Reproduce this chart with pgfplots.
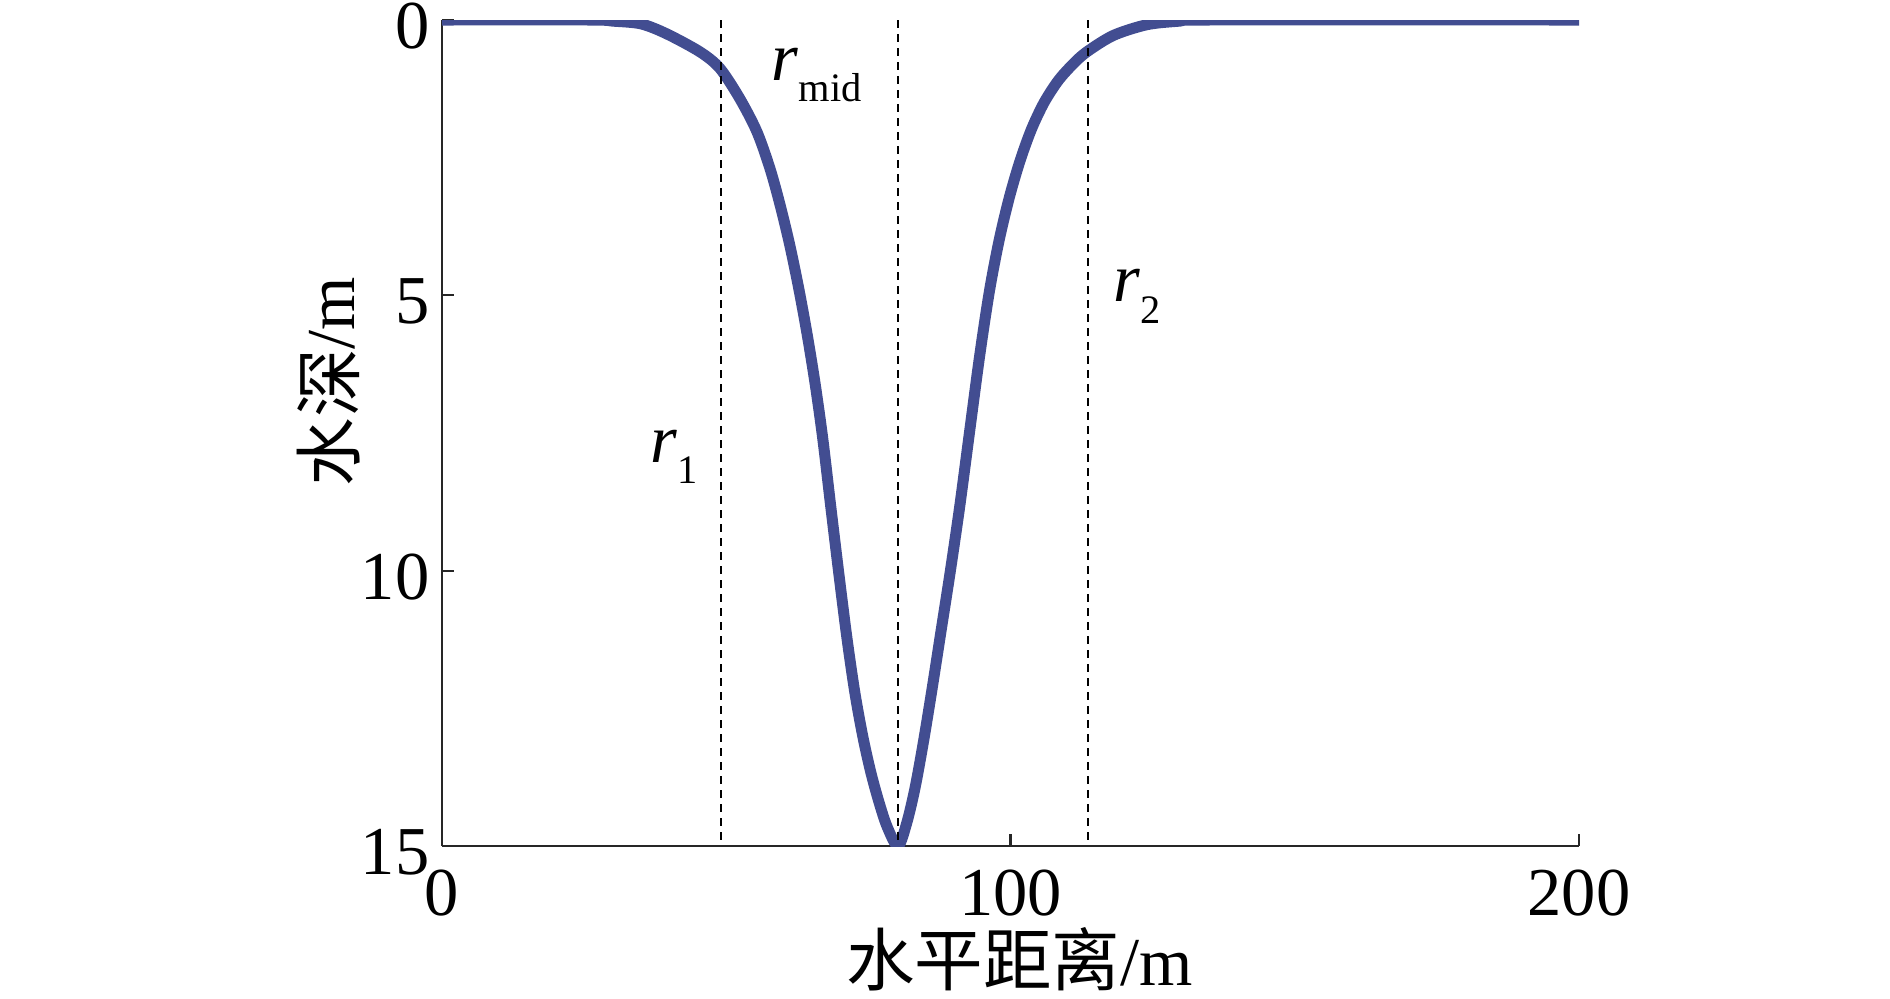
\documentclass[border=0pt]{standalone}
\usepackage{fontspec}
\setmainfont{Liberation Serif}
\newfontfamily\cjk{Noto Sans CJK SC}
\usepackage{pgfplots}
\pgfplotsset{compat=1.18}
\definecolor{curveblue}{RGB}{66,77,145}

% r with a lowered subscript, as in the figure
\newcommand\rlab[1]{\textit{r}\raisebox{-6.2pt}{\fontsize{11.5}{12}\selectfont #1}}

\pgfplotstableread{
x     y
0     0
26    0
30    0.02
35    0.07
39.5  0.25
45.4  0.58
48.9  0.88
52.4  1.43
55.4  2.03
57.7  2.70
59.5  3.37
61.2  4.10
62.8  4.90
64.3  5.75
65.7  6.65
67.0  7.62
68.4  8.85
69.8  10.05
71.2  11.20
72.6  12.20
74.0  13.00
75.4  13.65
76.8  14.18
78.3  14.65
80.2  15.00
81.7  14.60
83.2  13.95
84.7  13.10
86.2  12.15
87.7  11.15
89.4  10.02
91.1  8.81
92.9  7.40
94.6  6.08
96.3  4.92
98.0  4.00
99.8  3.22
101.7 2.55
103.7 1.98
105.9 1.50
108.4 1.10
111.0 0.80
113.4 0.58
118.1 0.28
124.0 0.085
129.8 0.02
134   0
200   0
}\profile

\begin{document}
\fontsize{19.5}{23}\selectfont
\begin{tikzpicture}
\begin{axis}[
    scale only axis,
    width=11.37cm, height=8.26cm,
    xmin=0, xmax=200, ymin=0, ymax=15,
    y dir=reverse,
    axis x line*=bottom, axis y line*=left,
    axis line style={line width=0.6pt, black!85},
    xtick={0,100,200}, ytick={0,5,10,15},
    tick align=inside, major tick length=1.2mm,
    tick style={line width=0.6pt, black!85},
    /pgf/number format/assume math mode=true,
    yticklabel style={inner xsep=3.4pt, yshift=-0.6mm},
    xlabel={{\cjk 水平距离}/m},
    ylabel={{\cjk 水深}/m},
    xlabel style={at={(axis description cs:0.508,-0.137)}, anchor=center},
    ylabel style={at={(axis description cs:-0.100,0.562)}, anchor=center},
]
\addplot[curveblue, line width=1.1mm, smooth, tension=0.5] table {\profile};

\addplot[black, line width=0.55pt, dash pattern=on 0.8mm off 0.6mm] coordinates {(49,0) (49,15)};
\addplot[black, line width=0.55pt, dash pattern=on 0.8mm off 0.6mm] coordinates {(80.2,0) (80.2,15)};
\addplot[black, line width=0.55pt, dash pattern=on 0.8mm off 0.6mm] coordinates {(113.7,0) (113.7,15)};

\node[anchor=base west, inner sep=0] at (axis cs:57.9,1.09) {\rlab{mid}};
\node[anchor=base west, inner sep=0] at (axis cs:36.6,8.03) {\rlab{1}};
\node[anchor=base west, inner sep=0] at (axis cs:118.0,5.12) {\rlab{2}};

\coordinate (bl) at (axis cs:0,15);
\coordinate (tr) at (axis cs:200,0);
\end{axis}
\pgfresetboundingbox
\path ([xshift=-4.42cm,yshift=-1.52cm]bl) rectangle ([xshift=3.11cm,yshift=0.2cm]tr);
\end{tikzpicture}
\end{document}
